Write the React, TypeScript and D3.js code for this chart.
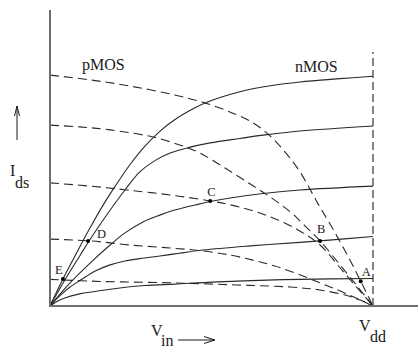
import React from "react";
import * as d3 from "d3";

type Pt = [number, number];

// Vin in volts (Vdd = 5 V), Ids in arbitrary current units.
const VDD = 5;

// nMOS characteristics (solid), highest gate drive first
const nmos1: Pt[] = [[0, 0], [0.2, 0.91], [0.39, 1.7], [0.62, 2.64], [0.85, 3.51], [1.01, 4.05], [1.24, 4.78], [1.47, 5.4], [1.7, 5.9], [1.93, 6.29], [2.17, 6.61], [2.4, 6.86], [2.94, 7.24], [3.41, 7.44], [3.87, 7.57], [4.49, 7.68], [5.0, 7.76]];
const nmos2: Pt[] = [[0, 0], [0.23, 0.88], [0.46, 1.69], [0.6, 2.18], [0.85, 2.99], [1.16, 3.92], [1.39, 4.53], [1.63, 4.92], [1.86, 5.17], [2.14, 5.35], [2.48, 5.51], [2.94, 5.66], [3.33, 5.78], [3.87, 5.91], [5.0, 6.08]];
const nmos3: Pt[] = [[0, 0], [0.31, 0.78], [0.67, 1.55], [0.93, 2.06], [1.16, 2.47], [1.44, 2.84], [1.7, 3.07], [1.93, 3.24], [2.32, 3.45], [2.48, 3.53], [2.79, 3.65], [3.3, 3.8], [3.87, 3.92], [5.0, 4.05]];
const nmos4: Pt[] = [[0, 0], [0.15, 0.34], [0.31, 0.64], [0.5, 0.91], [0.7, 1.18], [0.93, 1.39], [1.16, 1.52], [1.39, 1.6], [1.7, 1.69], [1.93, 1.76], [2.37, 1.89], [3.1, 2.03], [3.87, 2.15], [4.18, 2.2], [5.0, 2.35]];
const nmos5: Pt[] = [[0, 0], [0.12, 0.17], [0.23, 0.27], [0.46, 0.41], [0.7, 0.49], [1.08, 0.61], [1.47, 0.69], [1.93, 0.74], [2.89, 0.84], [3.87, 0.9], [5.0, 0.93]];

// pMOS characteristics (dashed), highest gate drive first
const pmos1: Pt[] = [[0, 7.8], [0.62, 7.64], [1.24, 7.43], [1.93, 7.13], [2.4, 6.86], [2.86, 6.49], [3.17, 6.15], [3.41, 5.74], [3.64, 5.2], [3.87, 4.53], [4.15, 3.45], [4.38, 2.6], [4.61, 1.69], [4.81, 0.84], [5.0, 0]];
const pmos2: Pt[] = [[0, 6.11], [0.46, 6.05], [0.93, 5.95], [1.59, 5.71], [2.14, 5.34], [2.32, 5.17], [2.71, 4.66], [3.1, 4.12], [3.41, 3.68], [3.72, 3.18], [3.95, 2.7], [4.18, 2.2], [4.49, 1.39], [4.74, 0.71], [5.0, 0]];
const pmos3: Pt[] = [[0, 4.16], [0.62, 4.05], [1.19, 3.92], [1.86, 3.75], [2.48, 3.55], [2.94, 3.34], [3.41, 3.01], [3.84, 2.57], [4.18, 2.06], [4.57, 1.08], [5.0, 0]];
const pmos4: Pt[] = [[0, 2.26], [0.62, 2.2], [1.24, 2.06], [1.86, 1.96], [2.37, 1.86], [2.79, 1.72], [3.14, 1.55], [3.48, 1.35], [3.84, 1.08], [4.18, 0.78], [4.49, 0.51], [4.77, 0.24], [5.0, 0]];
const pmos5: Pt[] = [[0, 0.9], [0.77, 0.83], [1.93, 0.78], [2.89, 0.71], [3.72, 0.64], [4.18, 0.54], [4.57, 0.37], [4.8, 0.2], [5.0, 0]];

const nmosCurves = [nmos1, nmos2, nmos3, nmos4, nmos5];
const pmosCurves = [pmos1, pmos2, pmos3, pmos4, pmos5];

// operating points where the matching nMOS / pMOS curves cross
const pointLabels = ["A", "B", "C", "D", "E"];
const pointVin = [4.81, 4.18, 2.48, 0.59, 0.2];
const pointIds = [0.84, 2.2, 3.55, 2.2, 0.91];
const labelOffsets: Pt[] = [[1, -5], [-3, -8], [-3, -5], [9, -3], [-8, -5]];

const VDD_LINE_TOP = 8.58;

const W = 418;
const H = 354;

export default function App() {
  const x = d3.scaleLinear().domain([0, VDD]).range([50, 373]);
  const y = d3.scaleLinear().domain([0, 10]).range([306, 10]);
  const line = d3
    .line<Pt>()
    .x((d) => x(d[0]))
    .y((d) => y(d[1]))
    .curve(d3.curveCatmullRom.alpha(0.5));

  const serif = "'Liberation Serif', 'DejaVu Serif', 'Times New Roman', serif";
  const ink = "#1a1a1a";
  const curveInk = "#2a2a2a";
  const axisInk = "#6e6e6e";
  const txt = (size: number) => ({ fontFamily: serif, fontSize: size, fill: ink } as React.CSSProperties);

  return (
    <svg
      width={W}
      height={H}
      viewBox={`0 0 ${W} ${H}`}
      style={{ position: "absolute", left: 0, top: 0, background: "#fff" }}
    >
      <rect width={W} height={H} fill="#fff" />

      {/* Vdd marker */}
      <line
        x1={x(VDD)}
        x2={x(VDD)}
        y1={y(0)}
        y2={y(VDD_LINE_TOP)}
        stroke="#444"
        strokeWidth={1.3}
        strokeDasharray="8,4"
      />

      {/* pMOS curves */}
      {pmosCurves.map((c, i) => (
        <path
          key={"p" + i}
          d={line(c) ?? ""}
          fill="none"
          stroke={curveInk}
          strokeWidth={1.1}
          strokeDasharray="9,5"
        />
      ))}

      {/* nMOS curves */}
      {nmosCurves.map((c, i) => (
        <path key={"n" + i} d={line(c) ?? ""} fill="none" stroke={curveInk} strokeWidth={1.1} />
      ))}

      {/* axes */}
      <line x1={x(0)} x2={x(0)} y1={y(0) + 1} y2={y(10)} stroke={axisInk} strokeWidth={2} />
      <line x1={x(0)} x2={W} y1={y(0)} y2={y(0)} stroke={axisInk} strokeWidth={2} />

      {/* operating points */}
      {pointLabels.map((lab, i) => {
        const px = x(pointVin[i]);
        const py = y(pointIds[i]);
        return (
          <g key={lab}>
            <circle cx={px} cy={py} r={2} fill="#000" />
            <text x={px + labelOffsets[i][0]} y={py + labelOffsets[i][1]} style={txt(12.5)}>
              {lab}
            </text>
          </g>
        );
      })}

      {/* curve family labels */}
      <text x={82} y={70} style={txt(16)}>pMOS</text>
      <text x={295} y={72} style={txt(16)}>nMOS</text>

      {/* Ids label with arrow */}
      <line x1={17} x2={17} y1={140} y2={106} stroke={ink} strokeWidth={1} />
      <polyline points="14.5,116 17,106 19.5,116" fill="none" stroke={ink} strokeWidth={1} />
      <text x={10} y={176} style={txt(16)}>I</text>
      <text x={15} y={188} style={txt(16)}>ds</text>

      {/* Vin label with arrow */}
      <text x={151} y={336} style={txt(16)}>V</text>
      <text x={161} y={346} style={txt(16)}>in</text>
      <line x1={178} x2={214} y1={340} y2={340} stroke={ink} strokeWidth={1} />
      <polyline points="204,336.5 215,340 204,343.5" fill="none" stroke={ink} strokeWidth={1} />

      {/* Vdd label */}
      <text x={359} y={331} style={txt(16)}>V</text>
      <text x={370} y={342} style={txt(16)}>dd</text>
    </svg>
  );
}
